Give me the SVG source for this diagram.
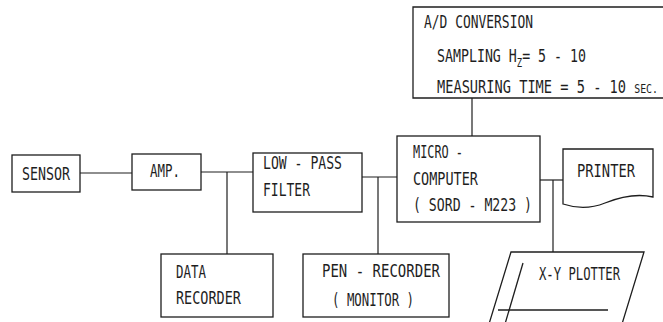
<svg xmlns="http://www.w3.org/2000/svg" width="663" height="322" viewBox="0 0 663 322">
  <style>
    .box { fill: none; stroke: #1e1e1e; stroke-width: 1.3; }
    .wire { fill: none; stroke: #1e1e1e; stroke-width: 1.2; }
    .t { font-family: "DejaVu Sans Mono", "Liberation Mono", monospace; font-size: 18px; fill: #1e1e1e; }
    .sub { font-size: 12px; }
    .sc { font-size: 13px; }
  </style>
  <rect width="663" height="322" fill="#ffffff"/>

  <!-- connectors -->
  <g id="connectors">
    <line class="wire" x1="80" y1="173" x2="132" y2="173"/>
    <line class="wire" x1="201" y1="172" x2="253" y2="172"/>
    <line class="wire" x1="227" y1="172" x2="227" y2="254"/>
    <line class="wire" x1="362" y1="177" x2="397" y2="177"/>
    <line class="wire" x1="378" y1="177" x2="378" y2="254"/>
    <line class="wire" x1="540" y1="180" x2="563" y2="180"/>
    <line class="wire" x1="553" y1="180" x2="553" y2="252"/>
    <line class="wire" x1="472" y1="98" x2="472" y2="136"/>
  </g>

  <!-- A/D conversion settings -->
  <g id="ad-conversion">
    <path class="box" d="M664,7 H413 V98 H664"/>
    <text class="t" x="424" y="28" textLength="109" lengthAdjust="spacingAndGlyphs">A/D  CONVERSION</text>
    <text class="t" x="437" y="62" textLength="149" lengthAdjust="spacingAndGlyphs">SAMPLING H<tspan class="sub" dy="5">Z</tspan><tspan dy="-5">= 5 - 10</tspan></text>
    <text class="t" x="437" y="93" textLength="221" lengthAdjust="spacingAndGlyphs">MEASURING TIME = 5 - 10 <tspan class="sc">SEC.</tspan></text>
  </g>

  <g id="sensor">
    <rect class="box" x="12" y="155" width="68" height="37"/>
    <text class="t" x="22" y="180" textLength="48" lengthAdjust="spacingAndGlyphs">SENSOR</text>
  </g>

  <g id="amp">
    <rect class="box" x="132" y="154" width="69" height="36"/>
    <text class="t" x="150" y="177" textLength="30" lengthAdjust="spacingAndGlyphs">AMP.</text>
  </g>

  <g id="low-pass-filter">
    <rect class="box" x="253" y="153" width="109" height="59"/>
    <text class="t" x="263" y="169" textLength="79" lengthAdjust="spacingAndGlyphs">LOW - PASS</text>
    <text class="t" x="263" y="196" textLength="47" lengthAdjust="spacingAndGlyphs">FILTER</text>
  </g>

  <g id="micro-computer">
    <rect class="box" x="397" y="136" width="143" height="86"/>
    <text class="t" x="413" y="158" textLength="50" lengthAdjust="spacingAndGlyphs">MICRO -</text>
    <text class="t" x="413" y="185" textLength="65" lengthAdjust="spacingAndGlyphs">COMPUTER</text>
    <text class="t" x="413" y="211" textLength="119" lengthAdjust="spacingAndGlyphs">( SORD - M223 )</text>
  </g>

  <g id="printer">
    <path class="box" d="M563,149 H653 V197 C636,193 620,197 605,203 C590,209 575,208 563,204 Z"/>
    <text class="t" x="577" y="177" textLength="58" lengthAdjust="spacingAndGlyphs">PRINTER</text>
  </g>

  <g id="data-recorder">
    <rect class="box" x="161" y="254" width="112" height="63"/>
    <text class="t" x="176" y="278" textLength="30" lengthAdjust="spacingAndGlyphs">DATA</text>
    <text class="t" x="176" y="304" textLength="65" lengthAdjust="spacingAndGlyphs">RECORDER</text>
  </g>

  <g id="pen-recorder">
    <rect class="box" x="303" y="254" width="146" height="63"/>
    <text class="t" x="322" y="277" textLength="118" lengthAdjust="spacingAndGlyphs">PEN - RECORDER</text>
    <text class="t" x="332" y="306" textLength="82" lengthAdjust="spacingAndGlyphs">( MONITOR )</text>
  </g>

  <g id="xy-plotter">
    <path class="box" d="M511,252 H644 L622,324 H489 Z"/>
    <line class="box" x1="523" y1="263" x2="505" y2="324"/>
    <line class="box" x1="498" y1="310" x2="608" y2="310"/>
    <text class="t" x="539" y="280" textLength="81" lengthAdjust="spacingAndGlyphs">X-Y PLOTTER</text>
  </g>
</svg>
